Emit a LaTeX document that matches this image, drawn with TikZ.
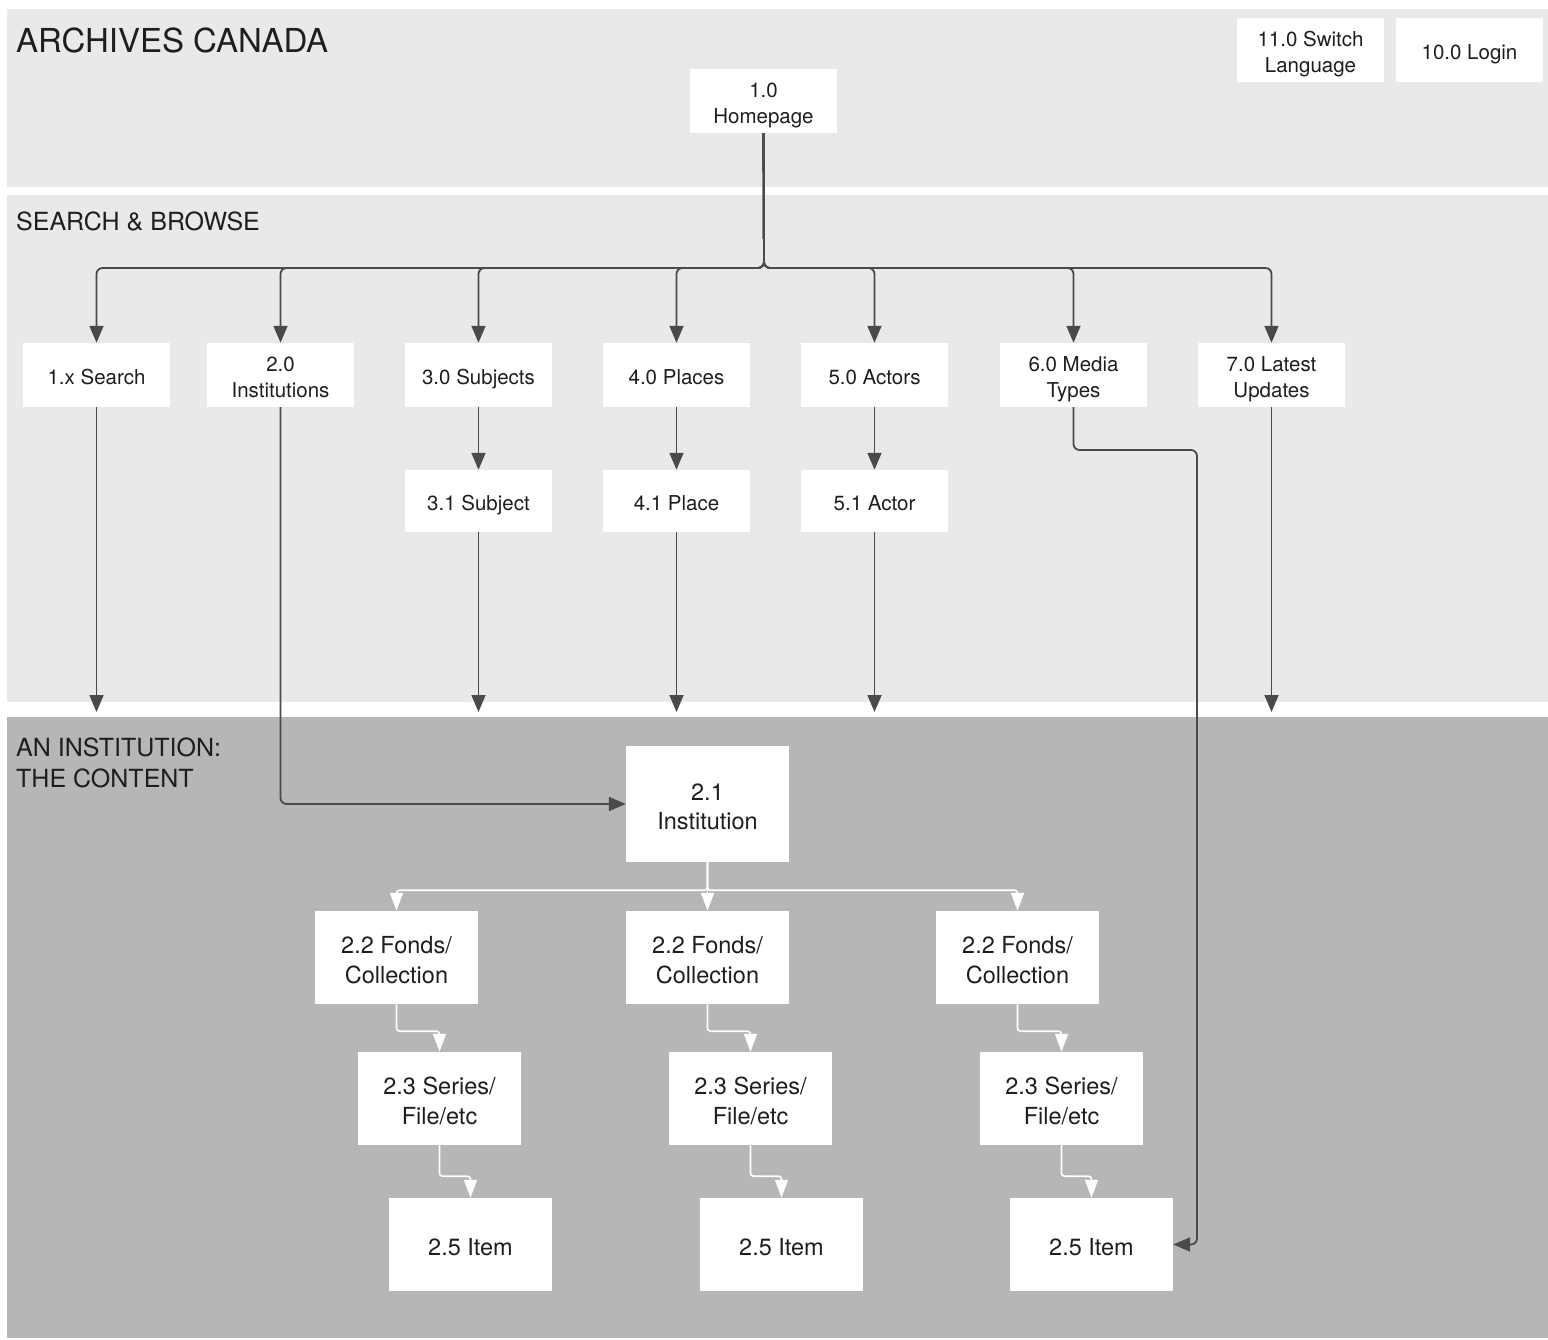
\documentclass[tikz,border=0pt]{standalone}
\usepackage{fontspec}
\setmainfont{TeX Gyre Heros}
\usetikzlibrary{arrows.meta}
\definecolor{panelL}{HTML}{E9E9E9}
\definecolor{panelD}{HTML}{B6B6B6}
\definecolor{lineC}{HTML}{4A4A4A}
\definecolor{txt}{HTML}{1E1E1E}
\newcommand\st{\vrule height 25pt depth 6pt width 0pt\relax}
\newcommand\sT{\vrule height 28pt depth 6pt width 0pt\relax}
\begin{document}
\setlength{\lineskiplimit}{-100pt}
\setlength{\lineskip}{0pt}
\begin{tikzpicture}[x=1pt,y=-1pt,
  box/.style={fill=white, draw=none, inner sep=0pt, align=center, text=txt,
    font=\fontsize{20.5}{26.5}\selectfont,
    minimum width=147pt, minimum height=64pt},
  bigbox/.style={box, font=\fontsize{23.5}{29.5}\selectfont,
    minimum width=163pt, minimum height=93pt},
  dline/.style={draw=lineC, line width=1.8pt, rounded corners=6pt, -{Triangle[length=17pt,width=14pt]}},
  wline/.style={draw=white, line width=1.6pt, rounded corners=3pt, -{Triangle[length=18pt,width=13pt]}},
  ttl/.style={anchor=base west, inner sep=0pt, text=txt}]
\useasboundingbox (0,0) rectangle (1548,1340);
\fill[white] (0,0) rectangle (1548,1340);
% panels
\fill[panelL] (7,9) rectangle (1548,187);
\fill[panelL] (7,195) rectangle (1548,702);
\fill[panelD] (7,717) rectangle (1548,1338);
% titles
\node[ttl, font=\fontsize{33}{40}\selectfont] (t1) at (16,53) {ARCHIVES CANADA};
\node[ttl, font=\fontsize{25}{31}\selectfont] (t2) at (16,231) {SEARCH \& BROWSE};
\node[ttl, font=\fontsize{25}{31}\selectfont] (t3) at (16,756) {AN INSTITUTION:};
\node[ttl, font=\fontsize{25}{31}\selectfont] (t4) at (16,787) {THE CONTENT};
% top nodes
\node[box] (switch) at (1310.5,50) {\st 11.0 Switch\\ \st Language};
\node[box] (login) at (1469.5,50) {\st 10.0 Login};
\node[box] (home) at (763.5,101) {\st 1.0\\ \st Homepage};
% row 1
\node[box] (search) at (96.5,375) {\st 1.x Search};
\node[box] (insts) at (280.5,375) {\st 2.0\\ \st Institutions};
\node[box] (subjects) at (478.5,375) {\st 3.0 Subjects};
\node[box] (places) at (676.5,375) {\st 4.0 Places};
\node[box] (actors) at (874.5,375) {\st 5.0 Actors};
\node[box] (media) at (1073.5,375) {\st 6.0 Media\\ \st Types};
\node[box] (latest) at (1271.5,375) {\st 7.0 Latest\\ \st Updates};
% row 2
\node[box, minimum height=62pt] (subject) at (478.5,501) {\st 3.1 Subject};
\node[box, minimum height=62pt] (place) at (676.5,501) {\st 4.1 Place};
\node[box, minimum height=62pt] (actor) at (874.5,501) {\st 5.1 Actor};
% institution content
\node[bigbox, minimum height=116pt] (inst) at (707.5,804) {\sT 2.1\\ \sT Institution};
\node[bigbox] (f1) at (396.5,957.5) {\sT 2.2 Fonds/\\ \sT Collection};
\node[bigbox] (f2) at (707.5,957.5) {\sT 2.2 Fonds/\\ \sT Collection};
\node[bigbox] (f3) at (1017.5,957.5) {\sT 2.2 Fonds/\\ \sT Collection};
\node[bigbox] (s1) at (439.5,1098.5) {\sT 2.3 Series/\\ \sT File/etc};
\node[bigbox] (s2) at (750.5,1098.5) {\sT 2.3 Series/\\ \sT File/etc};
\node[bigbox] (s3) at (1061.5,1098.5) {\sT 2.3 Series/\\ \sT File/etc};
\node[bigbox] (i1) at (470.5,1244.5) {\sT 2.5 Item};
\node[bigbox] (i2) at (781.5,1244.5) {\sT 2.5 Item};
\node[bigbox] (i3) at (1091.5,1244.5) {\sT 2.5 Item};
% coordinates
\coordinate (bus) at (764,268);
\coordinate (bnd) at (0,712);
\coordinate (mx) at (1197,450);
% homepage fan-out
\foreach \n in {search,insts,subjects,places,actors,media,latest}{
  \draw[dline] (home.south) -- (bus) -| (\n.north);
}
% row1 -> row2
\draw[dline] (subjects.south) -- (subject.north);
\draw[dline] (places.south) -- (place.north);
\draw[dline] (actors.south) -- (actor.north);
% to the content panel
\draw[dline] (search.south) -- (search.south |- bnd);
\draw[dline] (subject.south) -- (subject.south |- bnd);
\draw[dline] (place.south) -- (place.south |- bnd);
\draw[dline] (actor.south) -- (actor.south |- bnd);
\draw[dline] (latest.south) -- (latest.south |- bnd);
\draw[dline] (insts.south) |- (inst.west);
\draw[dline] (media.south) |- (mx) |- (i3.east);
% white connectors
\draw[wline] (inst.south) -- ++(0,28) -| (f1.north);
\draw[wline] (inst.south) -- (f2.north);
\draw[wline] (inst.south) -- ++(0,28) -| (f3.north);
\draw[wline] (f1.south) -- ++(0,27) -| (s1.north);
\draw[wline] (f2.south) -- ++(0,27) -| (s2.north);
\draw[wline] (f3.south) -- ++(0,27) -| (s3.north);
\draw[wline] (s1.south) -- ++(0,31) -| (i1.north);
\draw[wline] (s2.south) -- ++(0,31) -| (i2.north);
\draw[wline] (s3.south) -- ++(0,31) -| (i3.north);
\end{tikzpicture}
\end{document}
